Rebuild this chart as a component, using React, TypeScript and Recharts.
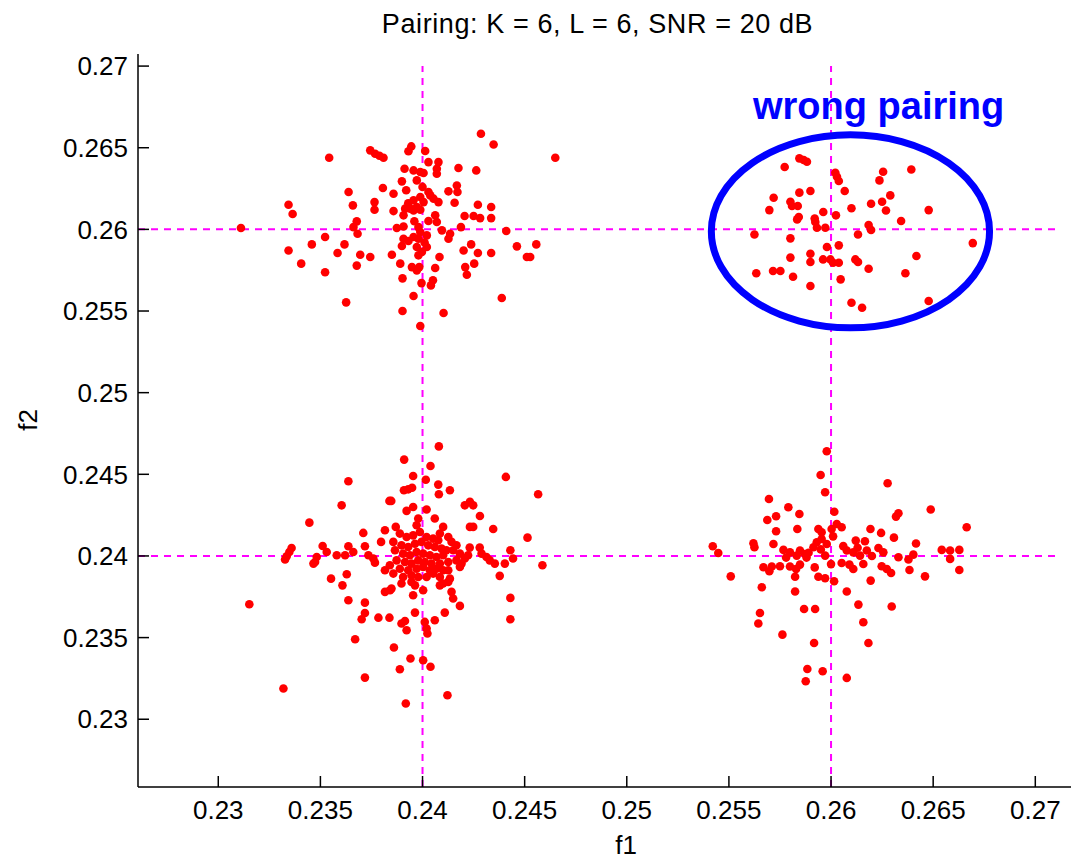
import React from 'react';
import { ScatterChart, Scatter, XAxis, YAxis, ReferenceLine, ReferenceDot } from 'recharts';

// ---- data (f1, f2) estimates per cluster ----
const clusterTopLeft: [number, number][] = [
  [0.24286,0.26586],[0.24348,0.26520],[0.24650,0.26439],[0.23543,0.26439],[0.23744,0.26484],[0.23768,0.26463],[0.23789,0.26451],[0.23809,0.26439],
  [0.23945,0.26508],[0.23931,0.26478],[0.24013,0.26480],[0.24029,0.26412],[0.24078,0.26412],[0.24070,0.26371],[0.24070,0.26341],[0.23912,0.26371],
  [0.23956,0.26361],[0.23989,0.26351],[0.23972,0.26300],[0.24005,0.26345],[0.24176,0.26376],[0.24263,0.26361],[0.23899,0.26294],[0.24168,0.26269],
  [0.24127,0.26233],[0.24171,0.26229],[0.23806,0.26253],[0.23638,0.26229],[0.23858,0.26218],[0.24029,0.26229],[0.23989,0.26198],[0.23956,0.26178],
  [0.24005,0.26167],[0.24054,0.26188],[0.24078,0.26167],[0.23972,0.26137],[0.23940,0.26127],[0.24038,0.26208],[0.24157,0.26163],[0.24271,0.26151],
  [0.24336,0.26137],[0.23344,0.26151],[0.23364,0.26094],[0.23659,0.26147],[0.23765,0.26167],[0.23765,0.26120],[0.23858,0.26112],[0.23915,0.26127],
  [0.23907,0.26086],[0.23956,0.26116],[0.23989,0.26120],[0.24062,0.26086],[0.24070,0.26045],[0.24029,0.26051],[0.24206,0.26082],[0.24250,0.26082],
  [0.24282,0.26069],[0.24336,0.26069],[0.23678,0.26049],[0.23662,0.26014],[0.23682,0.25973],[0.23111,0.26008],[0.23874,0.26008],[0.23907,0.26018],
  [0.23980,0.26014],[0.23989,0.25984],[0.24021,0.25963],[0.23980,0.25943],[0.23956,0.25953],[0.24095,0.25994],[0.24135,0.25973],[0.24127,0.25943],
  [0.24188,0.26014],[0.24410,0.25990],[0.23523,0.25953],[0.23458,0.25908],[0.23344,0.25871],[0.23618,0.25908],[0.23584,0.25855],[0.23907,0.25943],
  [0.23931,0.25929],[0.23899,0.25898],[0.23972,0.25892],[0.23997,0.25861],[0.23980,0.25841],[0.24021,0.25892],[0.24238,0.25908],[0.24201,0.25871],
  [0.24271,0.25855],[0.24336,0.25855],[0.24462,0.25896],[0.24557,0.25908],[0.24511,0.25831],[0.24527,0.25831],[0.23695,0.25845],[0.23744,0.25831],
  [0.23678,0.25778],[0.23850,0.25845],[0.24083,0.25831],[0.23406,0.25790],[0.23523,0.25737],[0.23891,0.25790],[0.23948,0.25769],[0.23984,0.25769],
  [0.23972,0.25749],[0.24062,0.25763],[0.24209,0.25769],[0.24253,0.25790],[0.24217,0.25722],[0.23902,0.25700],[0.23995,0.25671],[0.24041,0.25657],
  [0.24051,0.25688],[0.24388,0.25580],[0.23956,0.25592],[0.23626,0.25553],[0.23902,0.25500],[0.24103,0.25488],[0.23989,0.25408],
  [0.23920,0.26240],[0.24000,0.26260],[0.23960,0.26050],[0.24010,0.25920],[0.23930,0.26160],
];

const clusterTopRight: [number, number][] = [
  [0.25845,0.26435],[0.25866,0.26425],[0.25882,0.26414],[0.25773,0.26382],[0.26021,0.26347],[0.26029,0.26322],[0.26038,0.26296],[0.26255,0.26353],
  [0.26237,0.26300],[0.26393,0.26367],[0.26067,0.26235],[0.25899,0.26235],[0.25845,0.26225],[0.25719,0.26194],[0.26290,0.26208],[0.26250,0.26169],
  [0.26196,0.26157],[0.26269,0.26116],[0.25801,0.26169],[0.25809,0.26143],[0.25837,0.26143],[0.25698,0.26118],[0.26100,0.26129],[0.26478,0.26118],
  [0.25962,0.26106],[0.26024,0.26086],[0.25842,0.26076],[0.25834,0.26061],[0.25920,0.26067],[0.25923,0.26045],[0.25931,0.26010],[0.25972,0.26010],
  [0.26343,0.26051],[0.26184,0.26027],[0.26196,0.25996],[0.25625,0.25969],[0.26132,0.25969],[0.25801,0.25945],[0.26694,0.25916],[0.25980,0.25892],
  [0.26038,0.25902],[0.25899,0.25851],[0.25899,0.25800],[0.25801,0.25827],[0.25961,0.25816],[0.25997,0.25816],[0.26010,0.25796],[0.26038,0.25796],
  [0.26119,0.25816],[0.26132,0.25800],[0.26418,0.25837],[0.26184,0.25759],[0.25634,0.25731],[0.25716,0.25745],[0.25752,0.25745],[0.25814,0.25710],
  [0.26364,0.25731],[0.26047,0.25694],[0.25899,0.25653],[0.26100,0.25551],[0.26152,0.25520],[0.26478,0.25561],
];

const clusterBottomRight: [number, number][] = [
  [0.25979,0.24641],[0.25949,0.24496],[0.25971,0.24390],[0.26277,0.24445],[0.25696,0.24349],[0.25791,0.24298],[0.25845,0.24257],[0.25731,0.24243],
  [0.25688,0.24220],[0.26016,0.24271],[0.26488,0.24284],[0.26330,0.24261],[0.26318,0.24241],[0.26028,0.24196],[0.26052,0.24176],[0.26003,0.24165],
  [0.25938,0.24165],[0.25954,0.24145],[0.25835,0.24165],[0.25731,0.24151],[0.26193,0.24165],[0.26245,0.24141],[0.26308,0.24112],[0.26664,0.24176],
  [0.25620,0.24078],[0.25625,0.24053],[0.25718,0.24073],[0.25421,0.24059],[0.25448,0.24018],[0.26121,0.24094],[0.26166,0.24090],[0.26416,0.24076],
  [0.26232,0.24049],[0.26256,0.24022],[0.26542,0.24037],[0.26583,0.24033],[0.26628,0.24037],[0.26583,0.23982],[0.25767,0.24037],[0.25799,0.24022],
  [0.25848,0.24033],[0.25832,0.24002],[0.25873,0.24012],[0.25914,0.24053],[0.25930,0.24084],[0.25954,0.24104],[0.25979,0.24073],[0.26077,0.24033],
  [0.26109,0.24022],[0.26142,0.24002],[0.26175,0.24033],[0.26330,0.23992],[0.26379,0.23978],[0.26403,0.24008],[0.25971,0.24002],[0.25669,0.23931],
  [0.25698,0.23906],[0.25710,0.23935],[0.25750,0.23937],[0.25799,0.23935],[0.25848,0.23947],[0.25829,0.23920],[0.26052,0.23957],[0.26090,0.23947],
  [0.26109,0.23920],[0.26158,0.23951],[0.26248,0.23937],[0.26273,0.23920],[0.26294,0.23896],[0.25938,0.23873],[0.25971,0.23863],[0.26015,0.23845],
  [0.25824,0.23873],[0.25509,0.23875],[0.26384,0.23914],[0.26460,0.23875],[0.26628,0.23914],[0.26194,0.23849],[0.25661,0.23808],[0.26077,0.23782],
  [0.25824,0.23782],[0.26134,0.23702],[0.26297,0.23690],[0.25868,0.23675],[0.25922,0.23675],[0.25652,0.23651],[0.25644,0.23586],[0.26158,0.23594],
  [0.25762,0.23518],[0.25917,0.23467],[0.26183,0.23467],[0.25884,0.23308],[0.25959,0.23294],[0.25876,0.23233],[0.26077,0.23253],
  [0.25890,0.24020],[0.25950,0.24040],[0.26060,0.24060],[0.26010,0.24120],[0.25880,0.23990],[0.26130,0.24050],[0.26200,0.24000],[0.25780,0.23990],
  [0.26000,0.23950],[0.25920,0.23930],
];

const clusterBottomLeft: [number, number][] = [
  [0.23637,0.24457],[0.23604,0.24310],[0.23838,0.24337],[0.23446,0.24204],[0.23710,0.24141],[0.23816,0.24157],[0.23718,0.24059],[0.23797,0.24086],
  [0.23359,0.24049],[0.23348,0.24024],[0.23335,0.23998],[0.23327,0.23978],[0.23511,0.24061],[0.23531,0.24024],[0.23580,0.24004],[0.23621,0.24004],
  [0.23637,0.24059],[0.23661,0.24024],[0.23482,0.23994],[0.23474,0.23963],[0.23466,0.23953],[0.23735,0.24004],[0.23759,0.23984],[0.23767,0.23959],
  [0.23552,0.23861],[0.23608,0.23820],[0.23629,0.23888],[0.23637,0.23729],[0.23718,0.23714],[0.23152,0.23704],[0.23718,0.23651],[0.23702,0.23612],
  [0.23784,0.23622],[0.23838,0.23622],[0.23816,0.23912],[0.23816,0.23780],[0.23841,0.23790],[0.23670,0.23490],[0.23718,0.23255],[0.23319,0.23188],
  [0.24080,0.24671],[0.23910,0.24590],[0.24039,0.24551],[0.23954,0.24490],[0.24016,0.24467],[0.24077,0.24437],[0.24080,0.24378],[0.24134,0.24402],
  [0.23909,0.24402],[0.23930,0.24408],[0.23949,0.24418],[0.24408,0.24484],[0.24566,0.24378],[0.23847,0.24337],[0.24207,0.24310],[0.24232,0.24331],
  [0.24248,0.24310],[0.23922,0.24276],[0.23954,0.24300],[0.24020,0.24284],[0.23979,0.24229],[0.23971,0.24188],[0.24060,0.24229],[0.24281,0.24245],
  [0.23869,0.24178],[0.24232,0.24178],[0.24248,0.24178],[0.24346,0.24165],[0.24101,0.24178],[0.24085,0.24137],[0.24077,0.24096],[0.24514,0.24112],
  [0.23857,0.24086],[0.23889,0.24137],[0.23922,0.24116],[0.23954,0.24126],[0.23987,0.24147],[0.24020,0.24116],[0.24052,0.24106],[0.24126,0.24116],
  [0.24142,0.24086],[0.24166,0.24065],[0.23897,0.24065],[0.23930,0.24055],[0.23963,0.24075],[0.23995,0.24086],[0.24028,0.24065],[0.24060,0.24055],
  [0.24093,0.24045],[0.24117,0.24035],[0.24150,0.24035],[0.24183,0.24014],[0.23865,0.24035],[0.23905,0.24014],[0.23938,0.24004],[0.23971,0.24024],
  [0.24003,0.24014],[0.24036,0.24004],[0.24068,0.23994],[0.24101,0.24004],[0.24207,0.23984],[0.24223,0.24004],[0.23873,0.23973],[0.23914,0.23963],
  [0.23946,0.23953],[0.23979,0.23973],[0.24011,0.23963],[0.24044,0.23953],[0.24085,0.23953],[0.24126,0.23963],[0.24166,0.23973],[0.24191,0.23953],
  [0.24183,0.23933],[0.23889,0.23922],[0.23930,0.23912],[0.23971,0.23922],[0.24003,0.23933],[0.24036,0.23912],[0.24068,0.23922],[0.24101,0.23912],
  [0.24126,0.23912],[0.23857,0.23892],[0.23905,0.23871],[0.23897,0.23831],[0.23946,0.23882],[0.23979,0.23871],[0.24020,0.23871],[0.24052,0.23892],
  [0.24085,0.23871],[0.24134,0.23861],[0.24231,0.24051],[0.24280,0.24051],[0.24289,0.24014],[0.24313,0.23994],[0.24329,0.23973],[0.24354,0.23953],
  [0.24378,0.23878],[0.24403,0.23953],[0.24430,0.24035],[0.24443,0.23984],[0.23840,0.23943],[0.23848,0.23800],[0.23946,0.23841],[0.23963,0.23820],
  [0.23954,0.23759],[0.24003,0.23790],[0.24101,0.23831],[0.24126,0.23841],[0.24085,0.23820],[0.24142,0.23780],[0.24150,0.23739],[0.24183,0.23694],
  [0.23963,0.23653],[0.23914,0.23602],[0.23897,0.23586],[0.23922,0.23545],[0.24011,0.23596],[0.24020,0.23555],[0.24024,0.23525],[0.24060,0.23606],
  [0.24109,0.23653],[0.24430,0.23743],[0.24430,0.23612],[0.24587,0.23943],[0.23860,0.23439],[0.23941,0.23372],[0.24003,0.23361],[0.24039,0.23321],
  [0.23889,0.23306],[0.23918,0.23096],[0.24122,0.23147],
];

const f1Ticks = [0.23, 0.235, 0.24, 0.245, 0.25, 0.255, 0.26, 0.265, 0.27];
const f2Ticks = [0.23, 0.235, 0.24, 0.245, 0.25, 0.255, 0.26, 0.265, 0.27];
const f1Domain: [number, number] = [0.22607, 0.274];
const f2Domain: [number, number] = [0.22585, 0.27074];
const trueF1 = [0.24, 0.26];
const trueF2 = [0.24, 0.26];
const guideF1End = 0.27113;
const guideF2End = 0.27;
const wrongCenter = { f1: 0.26095, f2: 0.25988 };
const wrongRadius = { f1: 0.00681, f2: 0.00591 };

const titleText = 'Pairing: K = 6, L = 6, SNR = 20 dB';
const xLabel = 'f1';
const yLabel = 'f2';
const noteText = 'wrong pairing';

// ---- layout ----
const CHART_W = 1117;
const CHART_H = 859;
const MARGIN = { top: 54, right: 0, bottom: 0, left: 0 };
const Y_AXIS_W = 138;
const X_AXIS_H = 72;
const PLOT_W = CHART_W - MARGIN.left - MARGIN.right - Y_AXIS_W;
const PLOT_H = CHART_H - MARGIN.top - MARGIN.bottom - X_AXIS_H;
const PX_PER_F1 = PLOT_W / (f1Domain[1] - f1Domain[0]);
const PX_PER_F2 = PLOT_H / (f2Domain[1] - f2Domain[0]);

const FONT = '"Liberation Sans", Arial, Helvetica, sans-serif';
const RED = '#FF0000';
const MAGENTA = '#FF00FF';
const BLUE = '#0000FF';

const toPts = (arr: [number, number][]) => arr.map(([f1, f2]) => ({ f1, f2 }));
const fmt = (v: number) => String(Number(v.toFixed(3)));

const Dot = (p: any) => <circle cx={p.cx} cy={p.cy} r={4.3} fill={RED} />;

const EllipseShape = (p: any) => (
  <ellipse
    cx={p.cx}
    cy={p.cy}
    rx={wrongRadius.f1 * PX_PER_F1}
    ry={wrongRadius.f2 * PX_PER_F2}
    fill="none"
    stroke={BLUE}
    strokeWidth={7}
  />
);

export default function App() {
  const tickStyle = { fill: '#000', fontSize: 26, fontFamily: FONT };
  return (
    <div
      style={{
        position: 'absolute',
        left: 0,
        top: 0,
        width: 1071,
        height: 859,
        overflow: 'hidden',
        background: '#fff',
        fontFamily: FONT,
      }}
    >
      <ScatterChart width={CHART_W} height={CHART_H} margin={MARGIN}>
        <XAxis
          type="number"
          dataKey="f1"
          domain={f1Domain}
          ticks={f1Ticks}
          interval={0}
          allowDataOverflow
          tickFormatter={fmt}
          height={X_AXIS_H}
          tickSize={-11}
          tickMargin={25}
          tick={tickStyle}
          axisLine={{ stroke: '#000', strokeWidth: 1.5 }}
          tickLine={{ stroke: '#000', strokeWidth: 1.5 }}
        />
        <YAxis
          type="number"
          dataKey="f2"
          domain={f2Domain}
          ticks={f2Ticks}
          interval={0}
          allowDataOverflow
          tickFormatter={fmt}
          width={Y_AXIS_W}
          tickSize={-11}
          tickMargin={21}
          tick={tickStyle}
          axisLine={{ stroke: '#000', strokeWidth: 1.5 }}
          tickLine={{ stroke: '#000', strokeWidth: 1.5 }}
        />
        <Scatter data={toPts(clusterTopLeft)} shape={Dot} isAnimationActive={false} />
        <Scatter data={toPts(clusterTopRight)} shape={Dot} isAnimationActive={false} />
        <Scatter data={toPts(clusterBottomLeft)} shape={Dot} isAnimationActive={false} />
        <Scatter data={toPts(clusterBottomRight)} shape={Dot} isAnimationActive={false} />
        {trueF1.map((v) => (
          <ReferenceLine
            key={'v' + v}
            segment={[{ x: v, y: f2Domain[0] }, { x: v, y: guideF2End }]}
            stroke={MAGENTA}
            strokeWidth={2}
            strokeDasharray="7 6"
          />
        ))}
        {trueF2.map((v) => (
          <ReferenceLine
            key={'h' + v}
            segment={[{ x: f1Domain[0], y: v }, { x: guideF1End, y: v }]}
            stroke={MAGENTA}
            strokeWidth={2}
            strokeDasharray="7 6"
          />
        ))}
        <ReferenceDot x={wrongCenter.f1} y={wrongCenter.f2} r={1} shape={EllipseShape} />
      </ScatterChart>

      <div
        style={{
          position: 'absolute',
          left: 597.5,
          top: 11,
          transform: 'translateX(-50%)',
          fontSize: 27,
          letterSpacing: '0.6px',
          lineHeight: '26px',
          whiteSpace: 'nowrap',
          color: '#000',
        }}
      >
        {titleText}
      </div>
      <div
        style={{
          position: 'absolute',
          left: 626,
          top: 832,
          transform: 'translateX(-50%)',
          fontSize: 26,
          lineHeight: '26px',
          whiteSpace: 'nowrap',
          color: '#000',
        }}
      >
        {xLabel}
      </div>
      <div
        style={{
          position: 'absolute',
          left: 28,
          top: 420,
          transform: 'translate(-50%, -50%) rotate(-90deg)',
          fontSize: 26,
          lineHeight: '26px',
          whiteSpace: 'nowrap',
          color: '#000',
        }}
      >
        {yLabel}
      </div>
      <div
        style={{
          position: 'absolute',
          left: 753,
          top: 88,
          fontSize: 38,
          lineHeight: '37px',
          fontWeight: 'bold',
          whiteSpace: 'nowrap',
          color: BLUE,
        }}
      >
        {noteText}
      </div>
    </div>
  );
}
